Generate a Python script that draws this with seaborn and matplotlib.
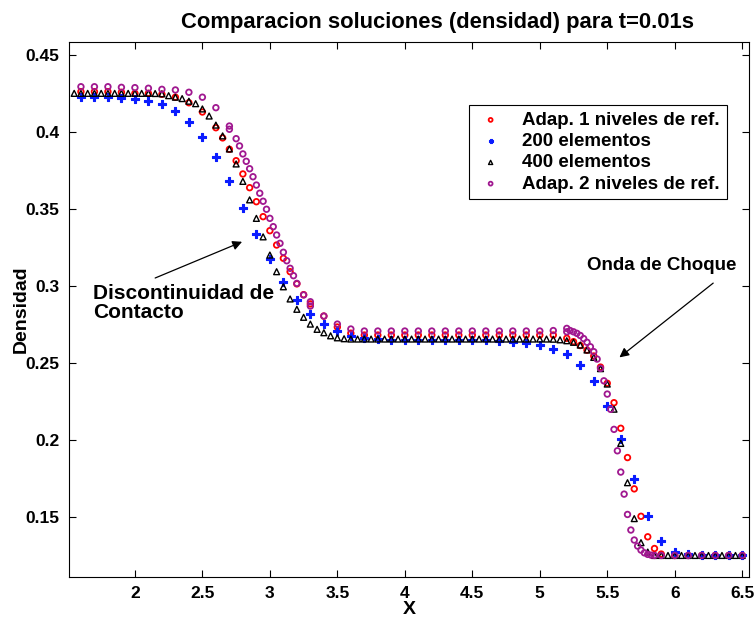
import matplotlib
matplotlib.use("Agg")
import matplotlib.pyplot as plt
import seaborn as sns

# Adap. 1 niveles de ref. (red circles)
x_adap1 = [1.6, 1.7, 1.8, 1.9, 2.0, 2.1, 2.2, 2.3, 2.4, 2.5, 2.6, 2.65, 2.7, 2.75, 2.8, 2.85,
           2.9, 2.95, 3.0, 3.05, 3.1, 3.15, 3.2, 3.25, 3.3, 3.4, 3.5, 3.6, 3.7, 3.8, 3.9, 4.0,
           4.1, 4.2, 4.3, 4.4, 4.5, 4.6, 4.7, 4.8, 4.9, 5.0, 5.1, 5.2, 5.25, 5.3, 5.35, 5.4,
           5.45, 5.5, 5.55, 5.6, 5.65, 5.7, 5.75, 5.8, 5.85, 5.9, 6.0, 6.1, 6.2, 6.3, 6.4, 6.5]
y_adap1 = [0.4262, 0.4262, 0.4262, 0.4258, 0.4251, 0.4251, 0.4245, 0.4226, 0.4190, 0.4130,
           0.4028, 0.3962, 0.3888, 0.3814, 0.3728, 0.3639, 0.3548, 0.3451, 0.3360, 0.3267,
           0.3181, 0.3094, 0.3015, 0.2945, 0.2885, 0.2806, 0.2735, 0.2695, 0.2683, 0.2683,
           0.2683, 0.2683, 0.2683, 0.2683, 0.2683, 0.2683, 0.2683, 0.2683, 0.2683, 0.2683,
           0.2683, 0.2683, 0.2683, 0.2662, 0.2640, 0.2615, 0.2585, 0.2547, 0.2475, 0.2370,
           0.2244, 0.2078, 0.1888, 0.1685, 0.1507, 0.1374, 0.1298, 0.1262, 0.1253, 0.1253,
           0.1253, 0.1253, 0.1253, 0.1253]

# 200 elementos (blue)
x_200 = [1.6, 1.7, 1.8, 1.9, 2.0, 2.1, 2.2, 2.3, 2.4, 2.5, 2.6, 2.7, 2.8, 2.9, 3.0, 3.1, 3.2,
         3.3, 3.4, 3.5, 3.6, 3.7, 3.8, 3.9, 4.0, 4.1, 4.2, 4.3, 4.4, 4.5, 4.6, 4.7, 4.8, 4.9,
         5.0, 5.1, 5.2, 5.3, 5.4, 5.5, 5.6, 5.7, 5.8, 5.9, 6.0, 6.1, 6.2, 6.3, 6.4, 6.5]
y_200 = [0.4229, 0.4229, 0.4226, 0.4223, 0.4214, 0.4203, 0.4180, 0.4137, 0.4066, 0.3966,
         0.3838, 0.3682, 0.3509, 0.3338, 0.3174, 0.3029, 0.2910, 0.2819, 0.2752, 0.2711,
         0.2677, 0.2662, 0.2655, 0.2652, 0.2652, 0.2652, 0.2652, 0.2652, 0.2652, 0.2652,
         0.2650, 0.2646, 0.2638, 0.2632, 0.2618, 0.2592, 0.2558, 0.2488, 0.2385, 0.2222,
         0.2010, 0.1750, 0.1508, 0.1346, 0.1277, 0.1260, 0.1254, 0.1253, 0.1253, 0.1253]

# 400 elementos (black triangles)
x_400 = [1.55, 1.6, 1.65, 1.7, 1.75, 1.8, 1.85, 1.9, 1.95, 2.0, 2.05, 2.1, 2.15, 2.2, 2.25,
         2.3, 2.35, 2.4, 2.45, 2.5, 2.55, 2.6, 2.65, 2.7, 2.75, 2.8, 2.85, 2.9, 2.95, 3.0,
         3.05, 3.1, 3.15, 3.2, 3.25, 3.3, 3.35, 3.4, 3.45, 3.5, 3.55, 3.6, 3.65, 3.7, 3.75,
         3.8, 3.85, 3.9, 3.95, 4.0, 4.05, 4.1, 4.15, 4.2, 4.25, 4.3, 4.35, 4.4, 4.45, 4.5,
         4.55, 4.6, 4.65, 4.7, 4.75, 4.8, 4.85, 4.9, 4.95, 5.0, 5.05, 5.1, 5.15, 5.2, 5.25,
         5.3, 5.35, 5.4, 5.45, 5.5, 5.55, 5.6, 5.65, 5.7, 5.75, 5.8, 5.85, 5.9, 5.95, 6.0,
         6.05, 6.1, 6.15, 6.2, 6.25, 6.3, 6.35, 6.4, 6.45, 6.5]
y_400 = [0.4251, 0.4251, 0.4251, 0.4251, 0.4251, 0.4251, 0.4251, 0.4251, 0.4251, 0.4251,
         0.4251, 0.4251, 0.4250, 0.4248, 0.4236, 0.4226, 0.4217, 0.4200, 0.4184, 0.4150,
         0.4104, 0.4045, 0.3975, 0.3890, 0.3793, 0.3680, 0.3560, 0.3440, 0.3320, 0.3202,
         0.3094, 0.2996, 0.2917, 0.2850, 0.2798, 0.2754, 0.2720, 0.2698, 0.2678, 0.2665,
         0.2659, 0.2657, 0.2657, 0.2657, 0.2657, 0.2657, 0.2657, 0.2657, 0.2657, 0.2657,
         0.2657, 0.2657, 0.2657, 0.2657, 0.2657, 0.2657, 0.2657, 0.2657, 0.2657, 0.2657,
         0.2657, 0.2657, 0.2657, 0.2657, 0.2657, 0.2657, 0.2657, 0.2657, 0.2657, 0.2657,
         0.2657, 0.2656, 0.2652, 0.2646, 0.2636, 0.2618, 0.2586, 0.2538, 0.2465, 0.2365,
         0.2202, 0.1980, 0.1725, 0.1492, 0.1336, 0.1275, 0.1253, 0.1253, 0.1253, 0.1253,
         0.1253, 0.1253, 0.1253, 0.1253, 0.1253, 0.1253, 0.1253, 0.1253, 0.1253, 0.1253]

# Adap. 2 niveles de ref. (purple circles)
x_adap2 = [1.6, 1.7, 1.8, 1.9, 2.0, 2.1, 2.2, 2.3, 2.4, 2.5, 2.6, 2.7, 2.7, 2.75, 2.775, 2.8,
           2.825, 2.85, 2.875, 2.9, 2.925, 2.95, 2.975, 3.0, 3.025, 3.05, 3.075, 3.1, 3.125,
           3.15, 3.175, 3.2, 3.25, 3.3, 3.3, 3.4, 3.5, 3.6, 3.7, 3.8, 3.9, 4.0, 4.1, 4.2, 4.3,
           4.4, 4.5, 4.6, 4.7, 4.8, 4.9, 5.0, 5.1, 5.2, 5.2, 5.225, 5.25, 5.275, 5.3, 5.325,
           5.35, 5.375, 5.4, 5.425, 5.45, 5.475, 5.5, 5.525, 5.55, 5.575, 5.6, 5.625, 5.65,
           5.675, 5.7, 5.725, 5.75, 5.775, 5.8, 5.825, 5.85, 5.9, 6.0, 6.1, 6.2, 6.3, 6.4, 6.5]
y_adap2 = [0.4294, 0.4294, 0.4294, 0.4290, 0.4288, 0.4284, 0.4277, 0.4273, 0.4258, 0.4226,
           0.4158, 0.4039, 0.4018, 0.3957, 0.3910, 0.3858, 0.3810, 0.3762, 0.3710, 0.3656,
           0.3603, 0.3551, 0.3499, 0.3440, 0.3386, 0.3332, 0.3278, 0.3220, 0.3165, 0.3116,
           0.3068, 0.3018, 0.2943, 0.2899, 0.2871, 0.2806, 0.2754, 0.2722, 0.2709, 0.2709,
           0.2709, 0.2709, 0.2709, 0.2709, 0.2709, 0.2709, 0.2709, 0.2709, 0.2709, 0.2709,
           0.2709, 0.2709, 0.2712, 0.2726, 0.2704, 0.2712, 0.2704, 0.2694, 0.2680, 0.2660,
           0.2636, 0.2607, 0.2575, 0.2527, 0.2467, 0.2386, 0.2300, 0.2201, 0.2071, 0.1932,
           0.1794, 0.1651, 0.1519, 0.1418, 0.1353, 0.1314, 0.1288, 0.1270, 0.1260, 0.1255,
           0.1253, 0.1253, 0.1253, 0.1253, 0.1253, 0.1253, 0.1253, 0.1253]

x_ticks = [2, 2.5, 3, 3.5, 4, 4.5, 5, 5.5, 6, 6.5]
x_tick_labels = ["2", "2.5", "3", "3.5", "4", "4.5", "5", "5.5", "6", "6.5"]
y_ticks = [0.15, 0.2, 0.25, 0.3, 0.35, 0.4, 0.45]
y_tick_labels = ["0.15", "0.2", "0.25", "0.3", "0.35", "0.4", "0.45"]

sns.set_theme(style="ticks")
plt.rcParams["font.family"] = ["Liberation Sans", "DejaVu Sans"]
plt.rcParams["font.weight"] = "bold"
plt.rcParams["text.color"] = "black"
plt.rcParams["axes.labelcolor"] = "black"

fig = plt.figure(figsize=(7.55, 6.19), dpi=100)
ax = fig.add_axes([0.092, 0.0683, 0.9, 0.8643])

purple = "#a01890"
blue = "#0a1cff"
sns.scatterplot(x=x_adap1, y=y_adap1, ax=ax, marker="o", s=16, color="red",
                facecolor="none", edgecolor="red", linewidth=1.3,
                label="Adap. 1 niveles de ref.")
sns.scatterplot(x=x_200, y=y_200, ax=ax, marker="P", s=26, color=blue,
                edgecolor=blue, linewidth=0.8, label="200 elementos")
sns.scatterplot(x=x_400, y=y_400, ax=ax, marker="^", s=18, color="black",
                facecolor="none", edgecolor="black", linewidth=1.0,
                label="400 elementos")
sns.scatterplot(x=x_adap2, y=y_adap2, ax=ax, marker="o", s=16, color=purple,
                facecolor="none", edgecolor=purple, linewidth=1.3,
                label="Adap. 2 niveles de ref.")

ax.set_xlim(1.515, 6.55)
ax.set_ylim(0.1115, 0.4586)
ax.set_xticks(x_ticks)
ax.set_xticklabels(x_tick_labels)
ax.set_yticks(y_ticks)
ax.set_yticklabels(y_tick_labels)
ax.tick_params(direction="in", top=True, right=True, length=5, width=0.8,
               labelsize=12.5, colors="black", labelcolor="black", pad=7)
for lab in ax.get_xticklabels() + ax.get_yticklabels():
    lab.set_fontweight("bold")
for sp in ax.spines.values():
    sp.set_visible(True)
    sp.set_color("black")
    sp.set_linewidth(0.8)

ax.set_title("Comparacion soluciones (densidad) para t=0.01s", fontsize=15.8,
             fontweight="bold", pad=10, color="black", x=0.5416)
ax.set_xlabel("X", fontsize=14, fontweight="bold", labelpad=0)
ax.set_ylabel("Densidad", fontsize=14, fontweight="bold")
ax.yaxis.set_label_coords(-0.058, 0.5)

ax.annotate("", xy=(2.794, 0.3288), xytext=(2.15, 0.3053),
            arrowprops=dict(arrowstyle="-|>", color="black", lw=0.9,
                            mutation_scale=14, shrinkA=0, shrinkB=0))
ax.text(1.69, 0.2889, "Discontinuidad de\nContacto", fontsize=15,
        fontweight="bold", ha="left", va="center", linespacing=1.0)
ax.annotate("", xy=(5.59, 0.2538), xytext=(6.285, 0.302),
            arrowprops=dict(arrowstyle="-|>", color="black", lw=0.9,
                            mutation_scale=14, shrinkA=0, shrinkB=0))
ax.text(5.9, 0.3137, "Onda de Choque", fontsize=13.5, fontweight="bold",
        ha="center", va="center")

leg = ax.legend(loc="upper right", bbox_to_anchor=(0.981, 0.899), fontsize=13.5,
                frameon=True, fancybox=False, edgecolor="black", framealpha=1,
                handletextpad=0.9, borderpad=0.35, labelspacing=0.22,
                markerscale=0.7, handlelength=1.6)
leg.get_frame().set_linewidth(0.8)
for t in leg.get_texts():
    t.set_fontweight("bold")
    t.set_color("black")

fig.savefig("out.png", dpi=100)
